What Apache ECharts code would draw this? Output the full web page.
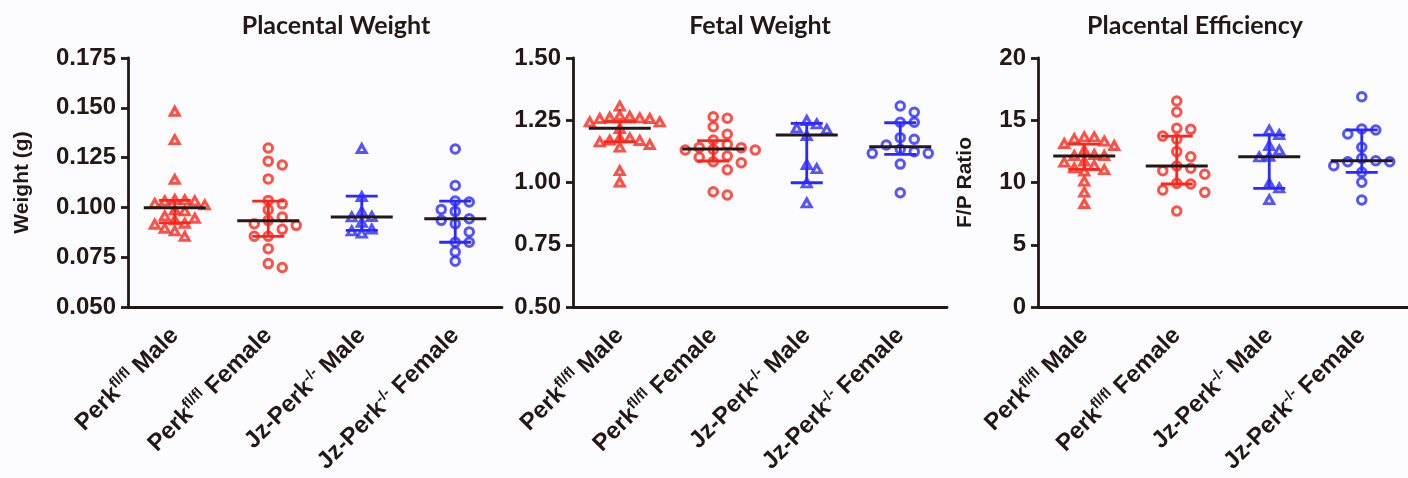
<!DOCTYPE html>
<html>
<head>
<meta charset="utf-8">
<script src="https://cdn.jsdelivr.net/npm/echarts@6/dist/echarts.min.js"></script>
<style>
  html, body { margin: 0; padding: 0; background: #fcfcfe; }
  #chart { width: 1408px; height: 478px; }
</style>
</head>
<body>
<div id="chart"></div>
<script>
// Group names: [base, superscript, suffix]
const categoryParts = [
  ['Perk', 'fl/fl', ' Male'],
  ['Perk', 'fl/fl', ' Female'],
  ['Jz-Perk', '-/-', ' Male'],
  ['Jz-Perk', '-/-', ' Female']
];

// Placental weight (g)
const pwPerkMale = [0.148, 0.1338, 0.1138, 0.103, 0.1038, 0.1035, 0.103, 0.1018, 0.101, 0.098, 0.0985, 0.0943, 0.0955, 0.0935, 0.0918, 0.0913, 0.0893, 0.088, 0.0852];
const pwPerkFemale = [0.1298, 0.1232, 0.1213, 0.1143, 0.1035, 0.1018, 0.0988, 0.0935, 0.0952, 0.0918, 0.091, 0.089, 0.0855, 0.0855, 0.0793, 0.0718, 0.0698];
const pwKoMale = [0.1293, 0.1052, 0.0977, 0.0952, 0.095, 0.0922, 0.0888, 0.088, 0.0868];
const pwKoFemale = [0.1293, 0.111, 0.1027, 0.1032, 0.099, 0.098, 0.0943, 0.0935, 0.0918, 0.0877, 0.0825, 0.0825, 0.0777, 0.073];
const pwMedian = [0.0998, 0.0933, 0.0952, 0.0943];
const pwQ1 = [0.0922, 0.0855, 0.0885, 0.0825];
const pwQ3 = [0.1035, 0.1032, 0.1057, 0.1032];

// Fetal weight (g)
const fwPerkMale = [1.3045, 1.2418, 1.2578, 1.26, 1.267, 1.255, 1.255, 1.264, 1.2418, 1.215, 1.1614, 1.1775, 1.1775, 1.14, 1.1506, 1.1667, 1.168, 1.046, 1.0];
const fwPerkFemale = [1.258, 1.264, 1.224, 1.1936, 1.1707, 1.153, 1.133, 1.1305, 1.1305, 1.14, 1.141, 1.106, 1.101, 1.0835, 1.0795, 1.0513, 0.963, 0.95];
const fwKoMale = [1.247, 1.2337, 1.211, 1.2177, 1.1867, 1.0703, 1.054, 0.9967, 0.9165];
const fwKoFemale = [1.307, 1.2819, 1.2418, 1.2418, 1.1735, 1.18, 1.1506, 1.1333, 1.1238, 1.1172, 1.1172, 1.074, 0.959];
const fwMedian = [1.2177, 1.1345, 1.1908, 1.1438];
const fwQ1 = [1.164, 1.0863, 0.999, 1.113];
const fwQ3 = [1.244, 1.168, 1.2376, 1.24];

// Placental efficiency (F/P ratio)
const fePerkMale = [13.63, 12.93, 12.13, 11.33, 13.09, 12.13, 11.14, 13.28, 12.21, 11.67, 10.87, 10.07, 9.18, 8.27, 13.49, 12.56, 11.59, 11.0, 13.63];
const fePerkFemale = [16.55, 15.66, 14.27, 14.35, 13.47, 13.73, 12.48, 12.07, 11.33, 11.14, 10.95, 10.66, 9.88, 9.93, 9.21, 9.4, 7.71];
const feKoMale = [14.16, 13.8, 12.93, 12.56, 12.07, 12.02, 9.88, 9.53, 8.59];
const feKoFemale = [16.89, 14.22, 14.3, 13.9, 12.83, 11.67, 11.75, 11.67, 11.94, 11.35, 10.82, 10.02, 8.59];
const feMedian = [12.13, 11.33, 12.07, 11.75];
const feQ1 = [11.06, 9.88, 9.53, 10.82];
const feQ3 = [13.09, 13.73, 13.8, 14.22];

// Axis ranges and tick labels
const pwTicks = { min: 0.05, max: 0.175, interval: 0.025, decimals: 3 };
const fwTicks = { min: 0.5, max: 1.5, interval: 0.25, decimals: 2 };
const feTicks = { min: 0, max: 20, interval: 5, decimals: 0 };

const INK = '#231815';
const RED = '#ff2418';
const BLUE = '#2a2aff';
const groupColor = [RED, RED, BLUE, BLUE];
const groupShape = ['triangle', 'circle', 'triangle', 'circle'];

const GRID_TOP = 58, GRID_H = 249, GRID_W = 374;

const panels = [
  { title: 'Placental Weight', yName: 'Weight (g)', left: 128, titleX: 331, nameGap: 95,
    ticks: pwTicks, groups: [pwPerkMale, pwPerkFemale, pwKoMale, pwKoFemale],
    median: pwMedian, q1: pwQ1, q3: pwQ3 },
  { title: 'Fetal Weight', yName: '', left: 573, titleX: 755, nameGap: 0,
    ticks: fwTicks, groups: [fwPerkMale, fwPerkFemale, fwKoMale, fwKoFemale],
    median: fwMedian, q1: fwQ1, q3: fwQ3 },
  { title: 'Placental Efficiency', yName: 'F/P Ratio', left: 1038, titleX: 1190, nameGap: 62,
    ticks: feTicks, groups: [fePerkMale, fePerkFemale, feKoMale, feKoFemale],
    median: feMedian, q1: feQ1, q3: feQ3 }
];

// Horizontal spread of points so that symbols in a column do not overlap
function swarmOffsets(values, pxPerUnit, step, minGap) {
  const order = values.map((v, i) => i).sort((a, b) => values[b] - values[a]);
  const placed = [];
  const offsets = new Array(values.length).fill(0);
  order.forEach(i => {
    const y = values[i] * pxPerUnit;
    for (let k = 0; k < 60; k++) {
      const m = k === 0 ? 0 : (k % 2 ? (k + 1) / 2 : -k / 2);
      const dx = m * step / 2;
      const clash = placed.some(p => Math.abs(p.dx - dx) < step * 0.95 && Math.abs(p.y - y) < minGap);
      if (!clash) {
        placed.push({ dx, y });
        offsets[i] = dx;
        break;
      }
    }
  });
  return offsets;
}

const labelFormatter = (v, idx) => {
  const p = categoryParts[idx];
  return '{b|' + p[0] + '}{s|' + p[1] + '}{b|' + p[2] + '}';
};

const option = {
  backgroundColor: '#fcfcfe',
  animation: false,
  title: [],
  grid: [],
  xAxis: [],
  yAxis: [],
  series: []
};

panels.forEach((pn, pi) => {
  option.title.push({
    text: pn.title,
    left: pn.titleX,
    top: 8,
    textAlign: 'center',
    textStyle: { fontFamily: 'Lato', fontWeight: 'bold', fontSize: 25, color: INK }
  });
  option.grid.push({ left: pn.left, top: GRID_TOP, width: GRID_W, height: GRID_H });
  option.xAxis.push({
    type: 'category',
    gridIndex: pi,
    data: categoryParts.map(p => p.join('')),
    boundaryGap: true,
    axisLine: { lineStyle: { color: INK, width: 2.8 } },
    axisTick: { alignWithLabel: true, length: 7, lineStyle: { color: INK, width: 2.8 } },
    axisLabel: {
      rotate: 45,
      margin: 25,
      interval: 0,
      formatter: labelFormatter,
      rich: {
        b: { fontFamily: 'Liberation Sans', fontWeight: 'bold', fontSize: 24, color: INK, lineHeight: 27 },
        s: { fontFamily: 'Liberation Sans', fontWeight: 'bold', fontSize: 15, color: INK, lineHeight: 15, verticalAlign: 'top' }
      }
    },
    splitLine: { show: false }
  });
  const t = pn.ticks;
  option.yAxis.push({
    type: 'value',
    gridIndex: pi,
    min: t.min,
    max: t.max,
    interval: t.interval,
    name: pn.yName,
    nameLocation: 'middle',
    nameRotate: 90,
    nameGap: pn.nameGap,
    nameTextStyle: { fontFamily: 'Liberation Sans', fontWeight: 'bold', fontSize: 21, color: INK },
    axisLine: { show: true, lineStyle: { color: INK, width: 2.8 } },
    axisTick: { show: true, length: 7, lineStyle: { color: INK, width: 2.8 } },
    axisLabel: {
      margin: 12,
      formatter: v => v.toFixed(t.decimals),
      fontFamily: 'Liberation Sans', fontWeight: 'bold', fontSize: 24, color: INK
    },
    splitLine: { show: false }
  });

  const pxPerUnit = GRID_H / (t.max - t.min);
  pn.groups.forEach((vals, gi) => {
    const isTri = groupShape[gi] === 'triangle';
    const step = isTri ? 10 : 14;
    const offs = swarmOffsets(vals, pxPerUnit, step, 9);
    option.series.push({
      type: 'scatter',
      xAxisIndex: pi,
      yAxisIndex: pi,
      symbol: groupShape[gi],
      symbolSize: isTri ? [9, 8] : 8.5,
      itemStyle: { color: 'rgba(0,0,0,0)', borderColor: groupColor[gi], borderWidth: 3 },
      z: 2,
      data: vals.map((v, i) => ({ value: [gi, v], symbolOffset: [offs[i], isTri ? -0.5 : 0] }))
    });
  });

  // Median with interquartile range for every group
  option.series.push({
    type: 'custom',
    xAxisIndex: pi,
    yAxisIndex: pi,
    z: 5,
    data: pn.median.map((m, gi) => [gi, m, pn.q1[gi], pn.q3[gi]]),
    renderItem: (params, api) => {
      const gi = api.value(0);
      const c = api.coord([gi, api.value(1)]);
      const lo = api.coord([gi, api.value(2)]);
      const hi = api.coord([gi, api.value(3)]);
      const col = groupColor[gi];
      const cap = 16, half = 31;
      return {
        type: 'group',
        children: [
          { type: 'line', shape: { x1: c[0], y1: lo[1], x2: c[0], y2: hi[1] }, style: { stroke: col, lineWidth: 2.8 } },
          { type: 'line', shape: { x1: c[0] - cap, y1: lo[1], x2: c[0] + cap, y2: lo[1] }, style: { stroke: col, lineWidth: 2.8 } },
          { type: 'line', shape: { x1: c[0] - cap, y1: hi[1], x2: c[0] + cap, y2: hi[1] }, style: { stroke: col, lineWidth: 2.8 } },
          { type: 'line', shape: { x1: c[0] - half, y1: c[1], x2: c[0] + half, y2: c[1] }, style: { stroke: INK, lineWidth: 3 } }
        ]
      };
    }
  });
});

const chart = echarts.init(document.getElementById('chart'), null, { renderer: 'canvas' });
chart.setOption(option);
</script>
</body>
</html>
